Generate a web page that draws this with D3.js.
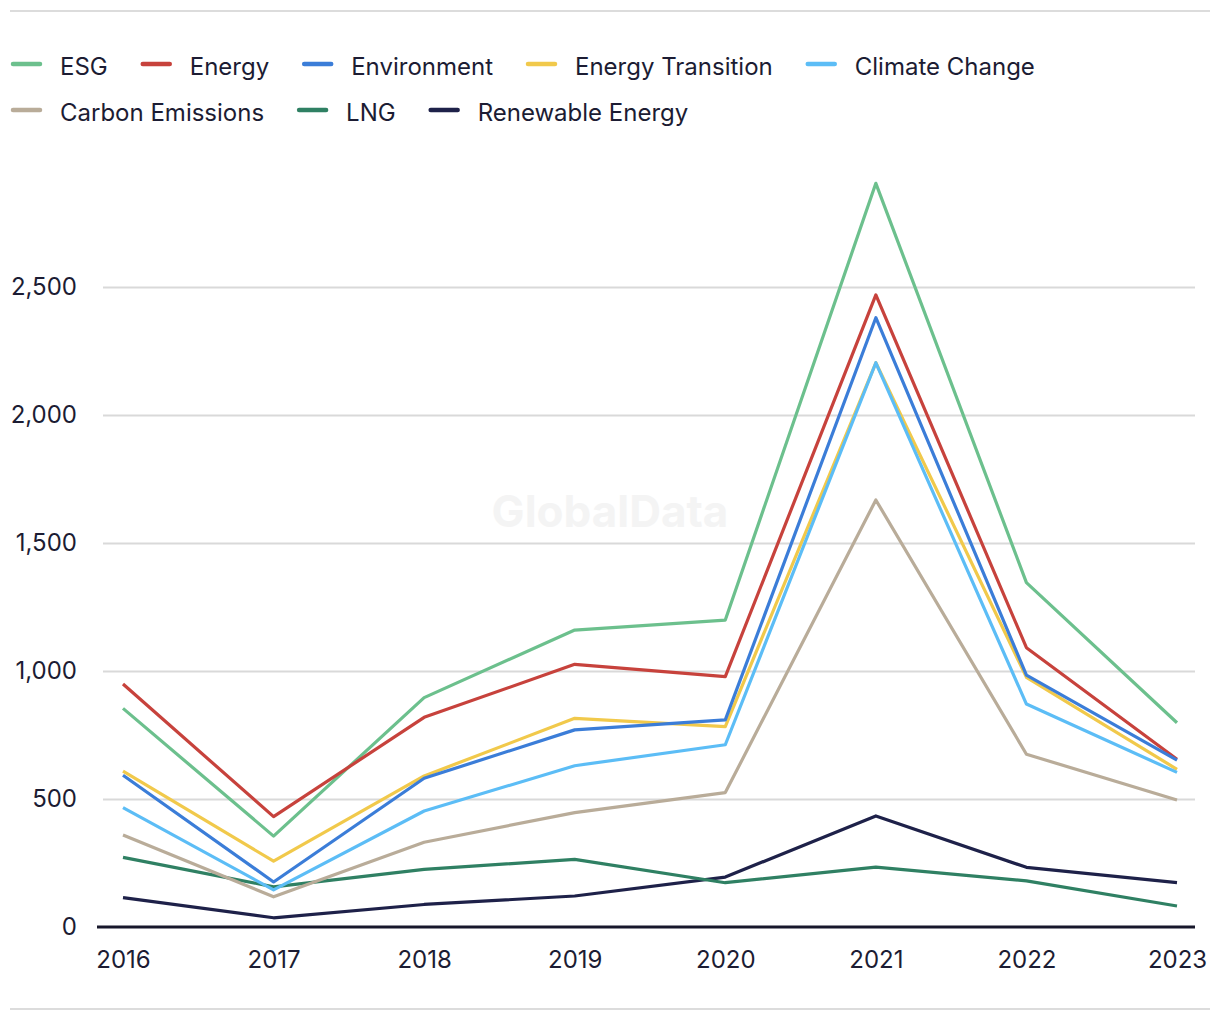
<!DOCTYPE html>
<html><head><meta charset="utf-8">
<script src="https://cdn.jsdelivr.net/npm/d3@7"></script>
<style>body{margin:0;background:#fff;}svg{display:block;font-family:Inter,"Liberation Sans",sans-serif;}</style>
</head><body><svg id="c" width="1220" height="1020"></svg>
<script>
const years = ["2016","2017","2018","2019","2020","2021","2022","2023"];
const yTicks = [0, 500, 1000, 1500, 2000, 2500];
const seriesNames = ["ESG","Energy","Environment","Energy Transition","Climate Change","Carbon Emissions","LNG","Renewable Energy"];
const seriesColors = ["#6cc08d","#c7423c","#3b7dd8","#f1c94b","#5cbdf6","#b9ac99","#2f8063","#1e2149"];
const esg = [854, 355, 896, 1160, 1199, 2905, 1345, 798];
const energy = [949, 431, 819, 1026, 978, 2469, 1091, 655];
const environment = [593, 176, 581, 770, 809, 2380, 984, 652];
const energyTransition = [609, 257, 590, 815, 783, 2204, 975, 616];
const climateChange = [466, 145, 453, 630, 712, 2204, 871, 604];
const carbonEmissions = [359, 118, 331, 447, 525, 1668, 675, 496];
const lng = [272, 157, 225, 264, 173, 234, 180, 82];
const renewableEnergy = [115, 36, 88, 121, 195, 434, 233, 173];
const seriesValues = [esg, energy, environment, energyTransition, climateChange, carbonEmissions, lng, renewableEnergy];

const svg = d3.select("#c");
const x = d3.scalePoint().domain(years).range([123, 1177]);
const y = d3.scaleLinear().domain([0, 2500]).range([927, 287]);

// top and bottom rules
svg.append("line").attr("x1",10).attr("x2",1210).attr("y1",11).attr("y2",11).attr("stroke","#dcdcdc").attr("stroke-width",2);
svg.append("line").attr("x1",10).attr("x2",1210).attr("y1",1009).attr("y2",1009).attr("stroke","#dcdcdc").attr("stroke-width",2);

// watermark
svg.append("text").attr("x",610).attr("y",527).attr("text-anchor","middle")
  .attr("font-size",44).attr("font-weight",700).attr("fill","#f4f4f4").text("GlobalData");

// y axis with gridlines
const yAxis = d3.axisLeft(y).tickValues(yTicks).tickSize(-1092).tickFormat(d3.format(","));
const gy = svg.append("g").attr("transform","translate(103,0)").call(yAxis);
gy.select(".domain").remove();
gy.selectAll(".tick line").attr("stroke","#d9d9d9").attr("stroke-width",2)
  .filter(d => d === 0).attr("stroke","none");
gy.selectAll(".tick text").attr("x",-26).attr("font-size",24).attr("fill","#1c1c33")
  .attr("font-family","Inter,'Liberation Sans',sans-serif");

// x axis
const xAxis = d3.axisBottom(x).tickSize(0).tickPadding(0);
const gx = svg.append("g").attr("transform","translate(0,927)").call(xAxis);
gx.select(".domain").remove();
gx.selectAll(".tick text").attr("dy",0).attr("y",41).attr("font-size",24).attr("fill","#1c1c33")
  .attr("font-family","Inter,'Liberation Sans',sans-serif");

// lines
const line = d3.line().x((d,i) => x(years[i])).y(d => y(d));
const order = [7,6,5,0,1,3,2,4];
order.forEach(k => {
  svg.append("path").datum(seriesValues[k]).attr("d", line).attr("fill","none")
    .attr("stroke", seriesColors[k]).attr("stroke-width",3.2).attr("stroke-linejoin","round");
});

// zero baseline
svg.append("line").attr("x1",97).attr("x2",1195).attr("y1",y(0)).attr("y2",y(0))
  .attr("stroke","#17172b").attr("stroke-width",3);

// legend
const rows = [[0,1,2,3,4],[5,6,7]];
const rowY = [64, 110];
rows.forEach((r, ri) => {
  let cx = 11;
  r.forEach(k => {
    const g = svg.append("g");
    g.append("line").attr("x1",cx+2).attr("x2",cx+29).attr("y1",rowY[ri]).attr("y2",rowY[ri])
      .attr("stroke",seriesColors[k]).attr("stroke-width",4.5).attr("stroke-linecap","round");
    const t = g.append("text").attr("x",cx+49).attr("y",rowY[ri]+11).attr("font-size",24)
      .attr("fill","#1c1c33").text(seriesNames[k]);
    cx = cx + 49 + t.node().getComputedTextLength() + 33;
  });
});
</script></body></html>
